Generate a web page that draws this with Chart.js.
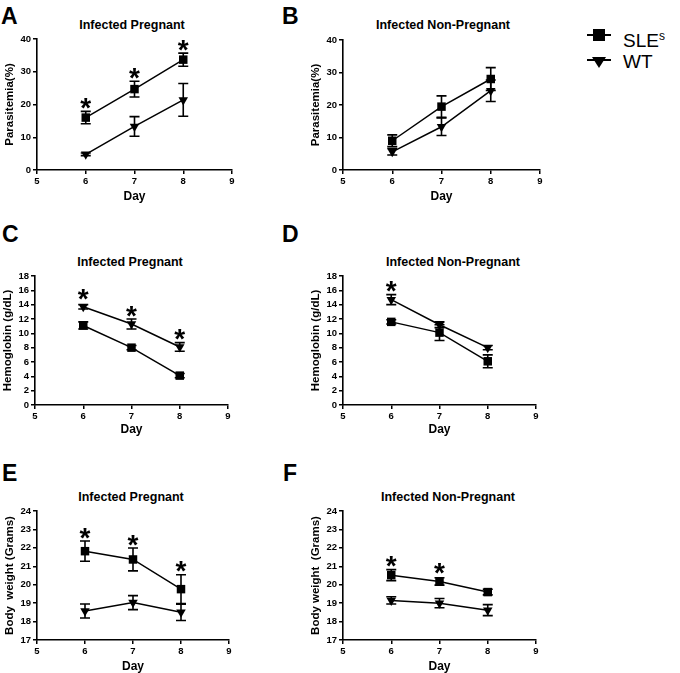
<!DOCTYPE html>
<html>
<head>
<meta charset="utf-8">
<script src="https://cdn.jsdelivr.net/npm/chart.js@4/dist/chart.umd.min.js"></script>
<style>
  body { margin: 0; background: #fff; }
  #fig { position: relative; width: 680px; height: 673px; overflow: hidden; font-family: "Liberation Sans", Arial, sans-serif; color: #000; }
  .box { position: absolute; }
  .letter { position: absolute; font-weight: bold; font-size: 23px; line-height: 1; }
  .ptitle { position: absolute; font-weight: bold; font-size: 12.5px; white-space: nowrap; transform: translate(-50%, -50%); }
  .leg { position: absolute; font-size: 19px; line-height: 1; white-space: nowrap; }
  .leg sup { font-size: 12px; vertical-align: 7px; }
</style>
</head>
<body>
<div id="fig">
  <div class="letter" style="left:1px;top:5px">A</div>
  <div class="letter" style="left:282px;top:5px">B</div>
  <div class="letter" style="left:2px;top:223px">C</div>
  <div class="letter" style="left:282px;top:223px">D</div>
  <div class="letter" style="left:2px;top:462px">E</div>
  <div class="letter" style="left:283px;top:462px">F</div>

  <div class="ptitle" style="left:132px;top:25px">Infected Pregnant</div>
  <div class="ptitle" style="left:443px;top:25px">Infected Non-Pregnant</div>
  <div class="ptitle" style="left:130px;top:262px">Infected Pregnant</div>
  <div class="ptitle" style="left:453px;top:262px">Infected Non-Pregnant</div>
  <div class="ptitle" style="left:131px;top:497px">Infected Pregnant</div>
  <div class="ptitle" style="left:448px;top:497px">Infected Non-Pregnant</div>

  <svg class="box" style="left:585px;top:26px" width="30" height="44">
    <line x1="2" y1="9" x2="26" y2="9" stroke="#000" stroke-width="2"/>
    <rect x="8" y="3" width="12" height="12" fill="#000"/>
    <line x1="2" y1="34" x2="26" y2="34" stroke="#000" stroke-width="2"/>
    <polygon points="7,31 21,31 14,42" fill="#000"/>
  </svg>
  <div class="leg" style="left:623px;top:30px">SLE<sup>s</sup></div>
  <div class="leg" style="left:623px;top:52px">WT</div>

  <div class="box" id="wA"><canvas id="cA"></canvas></div>
  <div class="box" id="wB"><canvas id="cB"></canvas></div>
  <div class="box" id="wC"><canvas id="cC"></canvas></div>
  <div class="box" id="wD"><canvas id="cD"></canvas></div>
  <div class="box" id="wE"><canvas id="cE"></canvas></div>
  <div class="box" id="wF"><canvas id="cF"></canvas></div>
</div>
<script>
// data
const days = [6, 7, 8];

const sleA = [16.0, 24.7, 33.7];
const sleAErr = [1.9, 2.4, 2.0];
const wtA = [4.8, 13.3, 21.4];
const wtAErr = [0.4, 3.0, 5.0];

const sleB = [9.0, 19.5, 28.0];
const sleBErr = [1.8, 3.3, 3.5];
const wtB = [5.6, 13.3, 24.4];
const wtBErr = [1.0, 2.7, 3.3];

const sleC = [11.1, 8.0, 4.1];
const sleCErr = [0.5, 0.3, 0.3];
const wtC = [13.7, 11.3, 8.1];
const wtCErr = [0.3, 0.7, 0.6];

const sleD = [11.6, 10.1, 6.1];
const sleDErr = [0.3, 1.1, 0.9];
const wtD = [14.7, 11.2, 8.0];
const wtDErr = [0.7, 0.4, 0.3];

const sleE = [21.82, 21.37, 19.76];
const sleEErr = [0.55, 0.62, 0.78];
const wtE = [18.57, 19.03, 18.5];
const wtEErr = [0.38, 0.38, 0.44];

const sleF = [20.52, 20.18, 19.6];
const sleFErr = [0.3, 0.2, 0.15];
const wtF = [19.15, 19.0, 18.62];
const wtFErr = [0.2, 0.25, 0.3];

// significance marks: which series they sit above, and on which days
const starsA = { series: 0, days: [6, 7, 8] };
const starsB = { series: 0, days: [] };
const starsC = { series: 1, days: [6, 7, 8] };
const starsD = { series: 1, days: [6] };
const starsE = { series: 0, days: [6, 7, 8] };
const starsF = { series: 0, days: [6, 7] };

const FONT = "'Liberation Sans', Arial, sans-serif";

// error bars + asterisks
const errorBars = {
  id: "errorBars",
  afterDatasetsDraw(chart, args, opts) {
    const { ctx, scales: { x, y } } = chart;
    ctx.save();
    ctx.strokeStyle = "#000";
    ctx.lineWidth = 1.6;
    chart.data.datasets.forEach((ds) => {
      ds.data.forEach((p, i) => {
        const e = ds.errors[i];
        const px = x.getPixelForValue(p.x);
        const top = y.getPixelForValue(p.y + e);
        const bot = y.getPixelForValue(p.y - e);
        ctx.beginPath();
        ctx.moveTo(px, top); ctx.lineTo(px, bot);
        ctx.moveTo(px - 5, top); ctx.lineTo(px + 5, top);
        ctx.moveTo(px - 5, bot); ctx.lineTo(px + 5, bot);
        ctx.stroke();
      });
    });
    const st = opts.stars;
    if (st) {
      const ds = chart.data.datasets[st.series];
      ctx.fillStyle = "#000";
      ctx.font = "bold 28px " + FONT;
      ctx.textAlign = "center";
      ctx.textBaseline = "alphabetic";
      st.days.forEach((d) => {
        const i = days.indexOf(d);
        const p = ds.data[i];
        const top = y.getPixelForValue(p.y + ds.errors[i]);
        const topMark = Math.min(top, y.getPixelForValue(p.y) - 5);
        ctx.fillText("*", x.getPixelForValue(d), topMark - 9 + 0.525 * 28);
      });
    }
    ctx.restore();
  },
};

function series(vals, errs, shape) {
  return {
    data: days.map((d, i) => ({ x: d, y: vals[i] })),
    errors: errs,
    showLine: true,
    borderColor: "#000",
    borderWidth: 1.5,
    backgroundColor: "#000",
    pointBackgroundColor: "#000",
    pointBorderColor: "#000",
    pointBorderWidth: 0,
    pointStyle: shape === "sq" ? "rect" : "triangle",
    pointRotation: shape === "sq" ? 0 : 180,
    pointRadius: shape === "sq" ? 6 : 5.5,
  };
}

function panel(id, geo, sle, sleErr, wt, wtErr, yMin, yMax, step, yTitle, stars) {
  const YW = 40, XH = 38, PT = 10, PR = 10;
  const left = geo.l - YW, top = geo.t - PT;
  const w = geo.r - left + PR, h = geo.b - top + XH;
  const wrap = document.getElementById("w" + id);
  Object.assign(wrap.style, { left: left + "px", top: top + "px", width: w + "px", height: h + "px" });
  const axisGrid = { drawOnChartArea: false, drawTicks: true, tickLength: 4, color: "#000", lineWidth: 1.5 };
  const tickFont = { family: FONT, size: 9.5, weight: "bold", lineHeight: 1 };
  new Chart(document.getElementById("c" + id), {
    type: "scatter",
    data: { datasets: [series(sle, sleErr, "sq"), series(wt, wtErr, "tri")] },
    options: {
      responsive: true,
      maintainAspectRatio: false,
      animation: false,
      layout: { padding: { top: PT, right: PR, left: 0, bottom: 0 } },
      plugins: { legend: { display: false }, tooltip: { enabled: false }, errorBars: { stars } },
      scales: {
        x: {
          type: "linear", min: 5, max: 9,
          ticks: { stepSize: 1, color: "#000", font: tickFont, padding: 3, autoSkip: false, maxRotation: 0 },
          grid: axisGrid,
          border: { display: true, color: "#000", width: 1.6 },
          title: { display: true, text: "Day", color: "#000", font: { family: FONT, size: 12, weight: "bold" }, padding: { top: 0, bottom: geo.dp } },
          afterFit(s) { s.height = XH; },
        },
        y: {
          min: yMin, max: yMax,
          ticks: { stepSize: step, color: "#000", font: tickFont, padding: 2, autoSkip: false },
          grid: axisGrid,
          border: { display: true, color: "#000", width: 1.6 },
          title: { display: true, text: yTitle, color: "#000", font: { family: FONT, size: 11.5, weight: "bold" }, padding: { top: 6, bottom: 0 } },
          afterFit(s) { s.width = YW; },
        },
      },
    },
    plugins: [errorBars],
  });
}

panel("A", { l: 37, r: 232, t: 39, b: 170, dp: 4 }, sleA, sleAErr, wtA, wtAErr, 0, 40, 10, "Parasitemia(%)", starsA);
panel("B", { l: 343, r: 540, t: 40, b: 170, dp: 4 }, sleB, sleBErr, wtB, wtBErr, 0, 40, 10, "Parasitemia(%)", starsB);
panel("C", { l: 35, r: 228, t: 276, b: 405, dp: 6 }, sleC, sleCErr, wtC, wtCErr, 0, 18, 2, "Hemoglobin (g/dL)", starsC);
panel("D", { l: 343, r: 536, t: 276, b: 405, dp: 6 }, sleD, sleDErr, wtD, wtDErr, 0, 18, 2, "Hemoglobin (g/dL)", starsD);
panel("E", { l: 37, r: 229, t: 511, b: 640, dp: 4 }, sleE, sleEErr, wtE, wtEErr, 17, 24, 1, "Body  weight (Grams)", starsE);
panel("F", { l: 343, r: 536, t: 511, b: 640, dp: 4 }, sleF, sleFErr, wtF, wtFErr, 17, 24, 1, "Body weight  (Grams)", starsF);
</script>
</body>
</html>
